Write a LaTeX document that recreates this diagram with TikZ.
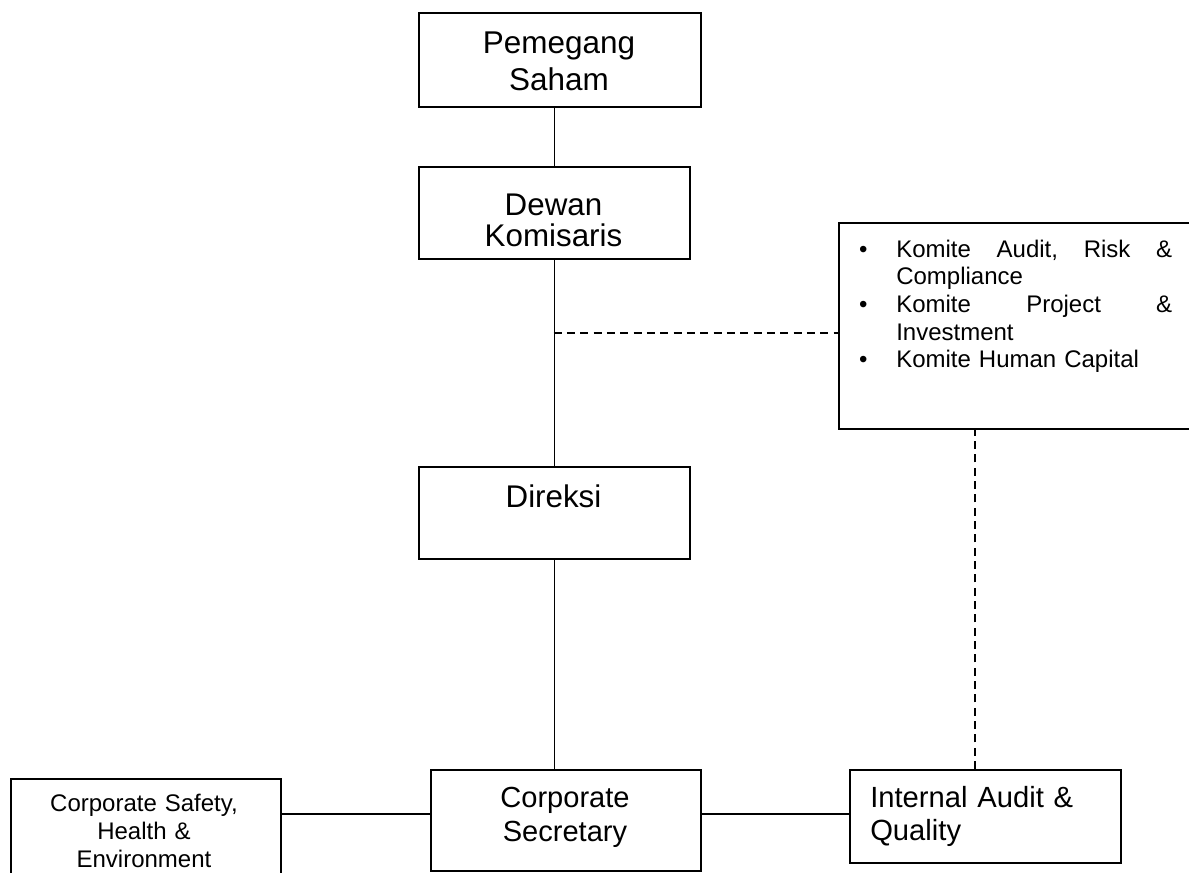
\documentclass[tikz,border=0pt]{standalone}
\usepackage{fontspec}
\setmainfont{Liberation Sans}
\newcommand{\kombullet}{\leavevmode\llap{\makebox[0pt]{\textbullet}\hspace{24.75pt}}}
\begin{document}
\begin{tikzpicture}[x=0.75pt,y=-0.75pt,
  box/.style={draw=black, line width=1.5pt, inner sep=0pt, anchor=north west, fill=none},
  conn/.style={line width=1.4pt},
  dashconn/.style={line width=1.4pt, dash pattern=on 6pt off 4pt},
  txt/.style={inner sep=0pt, anchor=base, align=center},
]
\useasboundingbox (0,0) rectangle (1189,872);
\clip (0,0) rectangle (1189,872);
\fill[white] (0,0) rectangle (1189,872);

% boxes
\node[box, minimum width=211.5pt, minimum height=70.5pt] (ps) at (418,12) {};
\node[box, minimum width=203.25pt, minimum height=69pt] (dk) at (418,166) {};
\node[box, minimum width=203.25pt, minimum height=69pt] (dir) at (418,466) {};
\node[box, minimum width=202.5pt, minimum height=75.75pt] (cs) at (430,769) {};
\node[box, minimum width=202.5pt, minimum height=97.5pt] (cshe) at (10,778) {};
\node[box, minimum width=203.25pt, minimum height=69.75pt] (ia) at (849,769) {};
\node[box, minimum width=300pt, minimum height=154.5pt] (kom) at (838,222) {};

% texts
\node[txt, text width=200pt, font=\fontsize{23.6pt}{27.75pt}\selectfont] (tps) at (559,53) {Pemegang\\Saham};
\node[txt, text width=200pt, font=\fontsize{23.5pt}{23.25pt}\selectfont] (tdk) at (553.5,215) {Dewan\\Komisaris};
\node[txt, text width=200pt, font=\fontsize{23.5pt}{27pt}\selectfont] (tdir) at (553.5,507) {Direksi};
\node[txt, text width=200pt, font=\fontsize{21.8pt}{25.5pt}\selectfont] (tcs) at (565,807) {Corporate\\Secretary};
\node[txt, text width=200pt, font=\fontsize{18pt}{21pt}\selectfont] (tcshe) at (144,811) {Corporate Safety,\\Health \&\\Environment};
\node[txt, anchor=base west, align=left, text width=190pt, font=\fontsize{21.9pt}{24.75pt}\selectfont] (tia) at (870,807) {Internal Audit \&\\Quality};
\node[txt, anchor=base west, align=left, text width=210pt, font=\fontsize{18pt}{20.75pt}\selectfont] (tkom) at (896,257)
  {\kombullet\makebox[207pt][s]{Komite\hfill Audit,\hfill Risk\hfill\&}\\
   Compliance\\
   \kombullet\makebox[207pt][s]{Komite\hfill Project\hfill\&}\\
   Investment\\
   \kombullet Komite Human Capital};

% connectors
\draw[conn] (dk.north) -- (dk.north |- ps.south);
\draw[conn] (dk.south) -- (dir.north);
\draw[conn] (dir.south) -- (dir.south |- cs.north);
\coordinate (j) at (553.5,333);
\draw[dashconn] (j) -- (j -| kom.west);
\path (cs.north west) ++(0,45) coordinate (csl);
\path (cs.north east) ++(0,45) coordinate (csr);
\draw[conn] (csl) -- (csl -| cshe.east);
\draw[conn] (csr) -- (csr -| ia.west);
\coordinate (iad) at (975,769);
\draw[dashconn] (iad) -- (iad |- kom.south);
\end{tikzpicture}
\end{document}
